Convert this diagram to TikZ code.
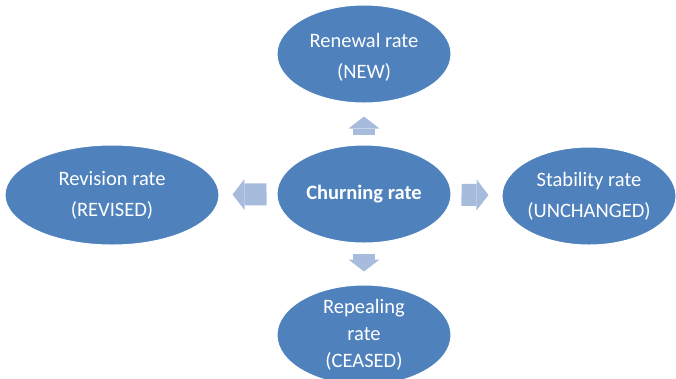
\documentclass[tikz,border=0pt]{standalone}
\usepackage{fontspec}
\setmainfont{Carlito}
\usetikzlibrary{arrows.meta,shapes.geometric}
\definecolor{rateblue}{RGB}{79,129,189}
\definecolor{arrowblue}{RGB}{167,187,220}

\begin{document}
\begin{tikzpicture}[x=1bp,y=-1bp,
                rate node/.style={ellipse,draw=white,line width=1bp,fill=rateblue,inner sep=0pt},
                rate text/.style={text=white,align=center,font=\fontsize{20.5bp}{31bp}\selectfont}]

            \useasboundingbox (0,0) rectangle (676,378);

            \node[rate node, minimum width=174bp, minimum height=98bp] (CH) at (364,194) {};
            \node[rate node, minimum width=174bp, minimum height=98bp] (NEW) at (364,54) {};
            \node[rate node, minimum width=214bp, minimum height=100bp] (REV) at (112,195) {};
            \node[rate node, minimum width=174bp, minimum height=98bp] (UNCH) at (589,196) {};
            \node[rate node, minimum width=174bp, minimum height=100bp] (CEAS) at (364,335) {};

            \node[rate text, font=\fontsize{20.5bp}{31bp}\selectfont\bfseries] (CHt) at (CH) {Churning rate};
            \node[rate text] (NEWt) at ([yshift=-3bp]NEW) {Renewal rate\\(NEW)};
            \node[rate text] (REVt) at (REV) {Revision rate\\(REVISED)};
            \node[rate text] (UNCHt) at (UNCH) {Stability rate\\(UNCHANGED)};
            \node[rate text, font=\fontsize{20.5bp}{27bp}\selectfont] (CEASt) at (CEAS) {Repealing\\rate\\(CEASED)};

            \path[color=arrowblue, line width=22bp, shorten <=10bp, shorten >=13bp,
                  -{Triangle[width=31bp,length=12bp,line width=0pt,fill=arrowblue]}]
            (CH) edge (NEW)
            (CH) edge (REV)
            (CH) edge (UNCH)
            (CH) edge (CEAS);

        \end{tikzpicture}
\end{document}
